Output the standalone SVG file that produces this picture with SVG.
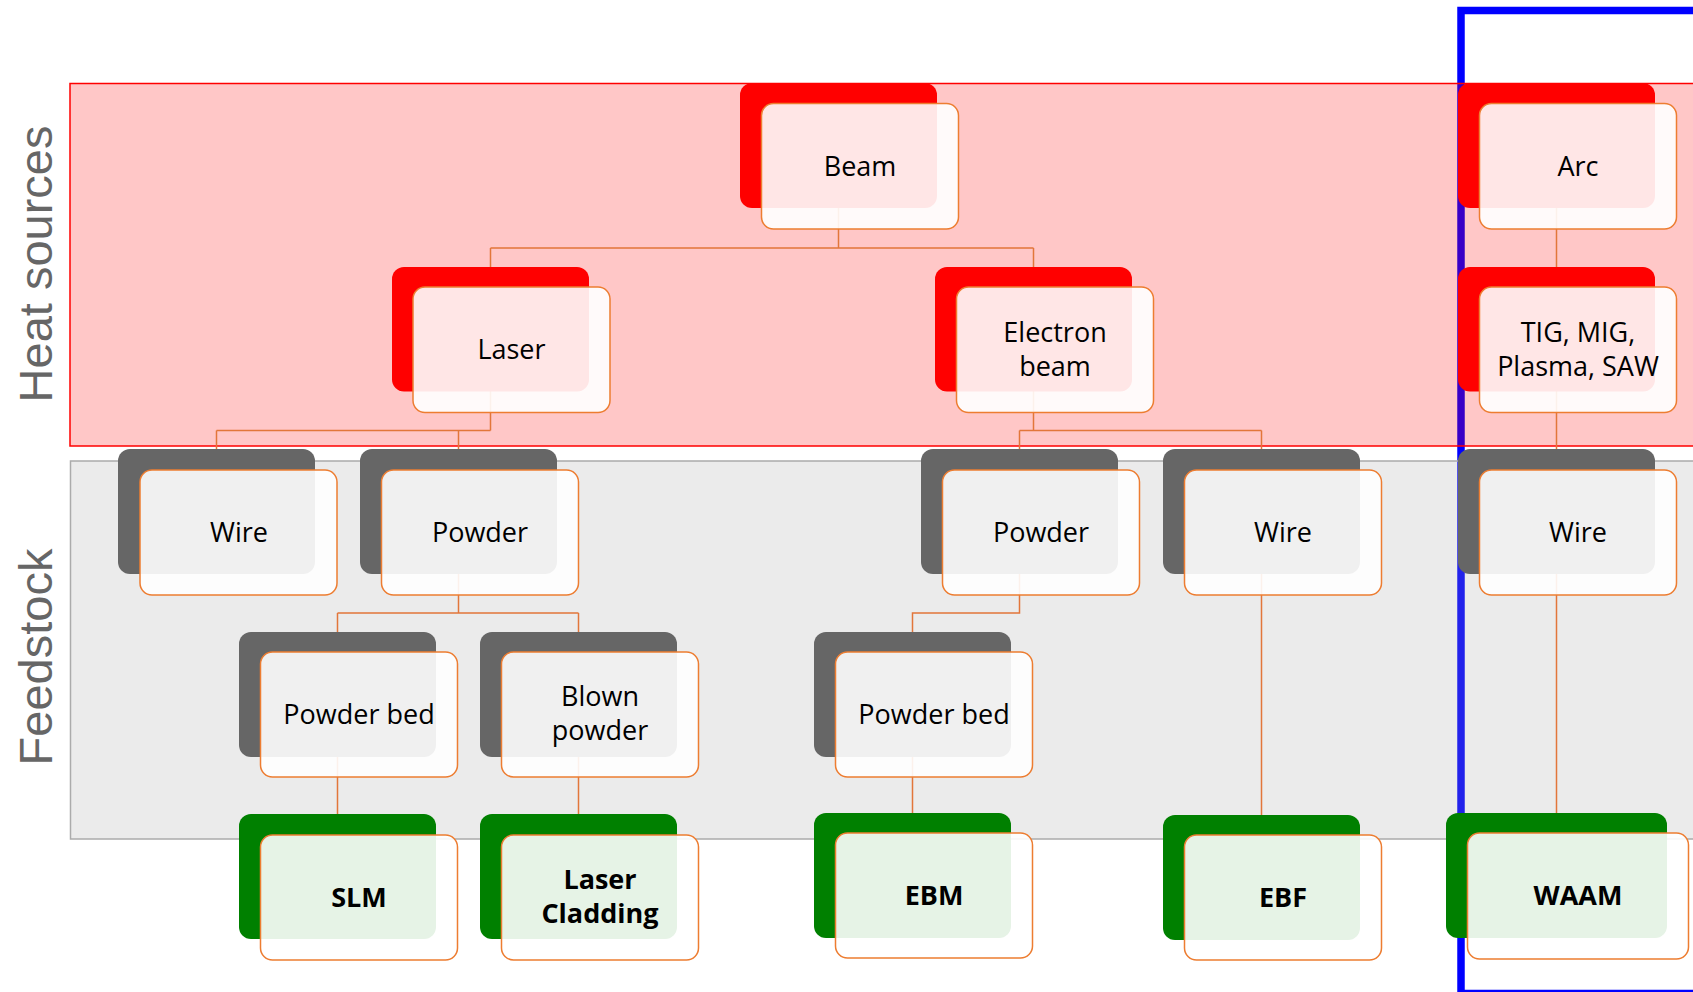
<svg xmlns="http://www.w3.org/2000/svg" width="1693" height="992" viewBox="0 0 1693 992">
<style>
.band-heat{fill:#FF0000;fill-opacity:0.22;stroke:#FF0000;stroke-width:1.5}
.band-feed{fill:#A0A0A0;fill-opacity:0.21;stroke:#ABABAB;stroke-width:1.5}
.lane{font-family:"Liberation Sans",Arial,sans-serif;font-size:47px;fill:#666666;text-anchor:middle}
.frame{fill:none;stroke:#0000FF;stroke-width:7.5}
.b-red{fill:#FF0000}
.b-gray{fill:#666666}
.b-green{fill:#008000}
.front{fill:#FFFFFF;fill-opacity:0.9;stroke:#ED7D31;stroke-width:1.5}
.t{font-family:"Open Sans","Noto Sans",sans-serif;font-size:27px;fill:#000000;text-anchor:middle}
.tb{font-family:"Open Sans","Noto Sans",sans-serif;font-size:27px;font-weight:bold;fill:#000000;text-anchor:middle}
.conn{fill:none;stroke:#E2763A;stroke-width:1.5}
</style>

<rect class="frame" x="1461" y="10.5" width="400" height="983"/>

<g id="band-heat">
<rect class="band-heat" x="70" y="83.5" width="1640" height="362.5"/>
<text class="lane" transform="translate(52,264) rotate(-90)">Heat sources</text>
</g>
<g id="band-feed">
<rect class="band-feed" x="70.5" y="461" width="1640" height="378"/>
<text class="lane" transform="translate(52,657) rotate(-90)">Feedstock</text>
</g>

<g id="connectors">
<path class="conn" d="M838.5,208 V248 M490.5,248 H1033.5 M490.5,248 V267 M1033.5,248 V267"/>
<path class="conn" d="M490.5,391 V430.5 M216.5,430.5 H490.5 M216.5,430.5 V449 M458.5,430.5 V449"/>
<path class="conn" d="M1033.5,391 V430.5 M1019.5,430.5 H1261.5 M1019.5,430.5 V449 M1261.5,430.5 V449"/>
<path class="conn" d="M458.5,574 V613 M337.5,613 H578.5 M337.5,613 V632 M578.5,613 V632"/>
<path class="conn" d="M1019.5,574 V613 H912.5 V632"/>
<path class="conn" d="M337.5,757 V814 M578.5,757 V814 M912.5,757 V813 M1261.5,574 V815"/>
<path class="conn" d="M1556.5,208 V267 M1556.5,391 V449 M1556.5,574 V813"/>
</g>

<g id="node-beam">
<rect class="b-red" x="740" y="83" width="197" height="125" rx="12"/>
<rect class="front" x="761.5" y="103.5" width="197" height="125.5" rx="12"/>
<text class="t" x="860" y="176">Beam</text>
</g>
<g id="node-arc">
<rect class="b-red" x="1458" y="83" width="197" height="125" rx="12"/>
<rect class="front" x="1479.5" y="103.5" width="197" height="125.5" rx="12"/>
<text class="t" x="1578" y="176">Arc</text>
</g>
<g id="node-laser">
<rect class="b-red" x="392" y="267" width="197" height="124.5" rx="12"/>
<rect class="front" x="413" y="287" width="197" height="125.5" rx="12"/>
<text class="t" x="511.5" y="359">Laser</text>
</g>
<g id="node-electron">
<rect class="b-red" x="935" y="267" width="197" height="124.5" rx="12"/>
<rect class="front" x="956.5" y="287" width="197" height="125.5" rx="12"/>
<text class="t" x="1055" y="342">Electron</text>
<text class="t" x="1055" y="376">beam</text>
</g>
<g id="node-tig">
<rect class="b-red" x="1458" y="267" width="197" height="124.5" rx="12"/>
<rect class="front" x="1479.5" y="287" width="197" height="125.5" rx="12"/>
<text class="t" x="1578" y="342">TIG, MIG,</text>
<text class="t" x="1578" y="376">Plasma, SAW</text>
</g>

<g id="node-wire-laser">
<rect class="b-gray" x="118" y="449" width="197" height="125" rx="12"/>
<rect class="front" x="140" y="470" width="197" height="125" rx="12"/>
<text class="t" x="239" y="542">Wire</text>
</g>
<g id="node-powder-laser">
<rect class="b-gray" x="360" y="449" width="197" height="125" rx="12"/>
<rect class="front" x="381.5" y="470" width="197" height="125" rx="12"/>
<text class="t" x="480" y="542">Powder</text>
</g>
<g id="node-powder-eb">
<rect class="b-gray" x="921" y="449" width="197" height="125" rx="12"/>
<rect class="front" x="942.5" y="470" width="197" height="125" rx="12"/>
<text class="t" x="1041" y="542">Powder</text>
</g>
<g id="node-wire-eb">
<rect class="b-gray" x="1163" y="449" width="197" height="125" rx="12"/>
<rect class="front" x="1184.5" y="470" width="197" height="125" rx="12"/>
<text class="t" x="1283" y="542">Wire</text>
</g>
<g id="node-wire-arc">
<rect class="b-gray" x="1458" y="449" width="197" height="125" rx="12"/>
<rect class="front" x="1479.5" y="470" width="197" height="125" rx="12"/>
<text class="t" x="1578" y="542">Wire</text>
</g>

<g id="node-powderbed-laser">
<rect class="b-gray" x="239" y="632" width="197" height="125" rx="12"/>
<rect class="front" x="260.5" y="652" width="197" height="125" rx="12"/>
<text class="t" x="359" y="724">Powder bed</text>
</g>
<g id="node-blown">
<rect class="b-gray" x="480" y="632" width="197" height="125" rx="12"/>
<rect class="front" x="501.5" y="652" width="197" height="125" rx="12"/>
<text class="t" x="600" y="706">Blown</text>
<text class="t" x="600" y="740">powder</text>
</g>
<g id="node-powderbed-eb">
<rect class="b-gray" x="814" y="632" width="197" height="125" rx="12"/>
<rect class="front" x="835.5" y="652" width="197" height="125" rx="12"/>
<text class="t" x="934" y="724">Powder bed</text>
</g>

<g id="node-slm">
<rect class="b-green" x="239" y="814" width="197" height="125" rx="12"/>
<rect class="front" x="260.5" y="835" width="197" height="125" rx="12"/>
<text class="tb" x="359" y="907">SLM</text>
</g>
<g id="node-cladding">
<rect class="b-green" x="480" y="814" width="197" height="125" rx="12"/>
<rect class="front" x="501.5" y="835" width="197" height="125" rx="12"/>
<text class="tb" x="600" y="889">Laser</text>
<text class="tb" x="600" y="923">Cladding</text>
</g>
<g id="node-ebm">
<rect class="b-green" x="814" y="813" width="197" height="125" rx="12"/>
<rect class="front" x="835.5" y="833" width="197" height="125" rx="12"/>
<text class="tb" x="934" y="905">EBM</text>
</g>
<g id="node-ebf">
<rect class="b-green" x="1163" y="815" width="197" height="125" rx="12"/>
<rect class="front" x="1184.5" y="835" width="197" height="125" rx="12"/>
<text class="tb" x="1283" y="907">EBF</text>
</g>
<g id="node-waam">
<rect class="b-green" x="1446" y="813" width="221" height="125" rx="12"/>
<rect class="front" x="1467.5" y="833" width="221" height="126" rx="12"/>
<text class="tb" x="1578" y="905">WAAM</text>
</g>
</svg>
